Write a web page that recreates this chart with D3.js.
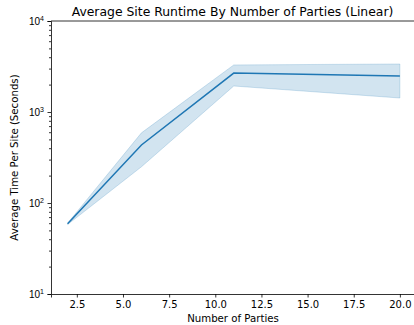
<!DOCTYPE html>
<html>
<head>
<meta charset="utf-8">
<script src="https://cdn.jsdelivr.net/npm/d3@7"></script>
<style>
  body { margin: 0; background: #fff; }
  svg { display: block; font-family: "DejaVu Sans", sans-serif; }
</style>
</head>
<body>
<div id="chart"></div>
<script>
// values
const parties = [2, 6, 11, 20];
const meanTime = [59, 434, 2680, 2490];
const lowTime = [58, 250, 1930, 1425];
const highTime = [60, 590, 3290, 3370];
const xTicks = [2.5, 5.0, 7.5, 10.0, 12.5, 15.0, 17.5, 20.0];
const yTicks = [10, 100, 1000, 10000];

const w = 414;
const h = 325;
const mLeft = 51, mTop = 21, mRight = 416.5, mBottom = 294;

const svg = d3.select("#chart")
              .append("svg")
              .attr("width", w)
              .attr("height", h);

const x = d3.scaleLinear().domain([1.1, 20.9]).range([mLeft, mRight]);
const y = d3.scaleLog().domain([10, 10000]).range([mBottom, mTop]);

const blue = "#1f77b4";
const rows = parties.map((p, i) => ({ p: p, m: meanTime[i], lo: lowTime[i], hi: highTime[i] }));

// confidence band
svg.append("path")
   .datum(rows)
   .attr("d", d3.area().x(d => x(d.p)).y0(d => y(d.lo)).y1(d => y(d.hi)))
   .attr("fill", blue)
   .attr("fill-opacity", 0.2)
   .attr("stroke", blue)
   .attr("stroke-opacity", 0.2)
   .attr("stroke-width", 1);

// mean line
svg.append("path")
   .datum(rows)
   .attr("d", d3.line().x(d => x(d.p)).y(d => y(d.m)))
   .attr("fill", "none")
   .attr("stroke", blue)
   .attr("stroke-width", 1.5);

// x axis
const xAxis = svg.append("g")
   .attr("transform", `translate(0,${mBottom})`)
   .call(d3.axisBottom(x).tickValues(xTicks).tickFormat(d3.format(".1f")).tickSize(3.5).tickPadding(3.5));

// y axis with major + minor ticks
const minor = [];
for (let e = 1; e < 4; e++) for (let k = 2; k < 10; k++) minor.push(k * Math.pow(10, e));

svg.append("g")
   .attr("transform", `translate(${mLeft},0)`)
   .call(d3.axisLeft(y).tickValues(minor).tickFormat("").tickSize(2))
   .call(g => g.select(".domain").remove());

const yAxis = svg.append("g")
   .attr("transform", `translate(${mLeft},0)`)
   .call(d3.axisLeft(y).tickValues(yTicks).tickFormat("").tickSize(3.5));

yAxis.selectAll(".tick")
   .append("text")
   .attr("x", -7)
   .attr("y", 3.5)
   .attr("text-anchor", "end")
   .attr("fill", "#000")
   .attr("font-size", 10)
   .each(function(d) {
      const t = d3.select(this);
      t.append("tspan").text("10");
      t.append("tspan").attr("dy", -4.5).attr("font-size", 7).text(Math.round(Math.log10(d)));
   });

svg.selectAll(".domain").attr("stroke", "#000").attr("stroke-width", 0.8);
svg.selectAll(".tick line").attr("stroke", "#000").attr("stroke-width", 0.8);
xAxis.selectAll("text").attr("font-size", 10).attr("fill", "#000").attr("font-family", "DejaVu Sans");

// top spine
svg.append("line")
   .attr("x1", mLeft).attr("x2", mRight)
   .attr("y1", mTop).attr("y2", mTop)
   .attr("stroke", "#000").attr("stroke-width", 0.8);

// titles
svg.append("text")
   .attr("x", 232.5)
   .attr("y", 15.5)
   .attr("text-anchor", "middle")
   .attr("font-size", 12.4)
   .text("Average Site Runtime By Number of Parties (Linear)");

svg.append("text")
   .attr("x", 233)
   .attr("y", 322)
   .attr("text-anchor", "middle")
   .attr("font-size", 10.2)
   .text("Number of Parties");

svg.append("text")
   .attr("transform", `translate(18,${(mTop + mBottom) / 2}) rotate(-90)`)
   .attr("text-anchor", "middle")
   .attr("font-size", 10.2)
   .text("Average Time Per Site (Seconds)");
</script>
</body>
</html>
